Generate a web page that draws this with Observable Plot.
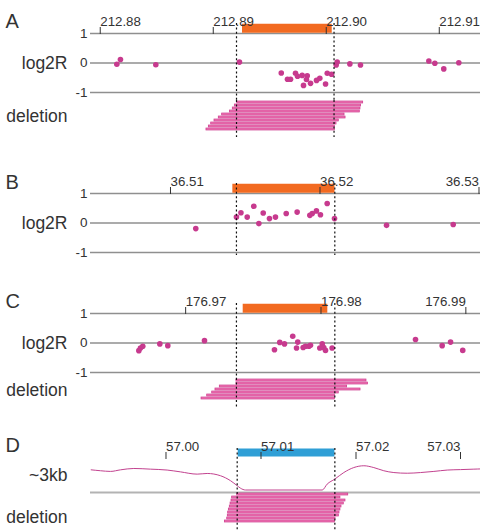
<!DOCTYPE html>
<html>
<head>
<meta charset="utf-8">
<script src="https://cdn.jsdelivr.net/npm/d3@7"></script>
<script src="https://cdn.jsdelivr.net/npm/@observablehq/plot@0.6"></script>
<style>
  body { margin: 0; background: #fff; }
  #chart { position: relative; width: 480px; height: 530px; background: #fff; }
</style>
</head>
<body>
<div id="chart"></div>
<script>
// ---- Panel A (chr position, Mb) ----
const viewA = [212.87874, 212.91325];
const ticksA = [212.88, 212.89, 212.90, 212.91];
const edgeTicksA = [];
const regionA = [212.89219, 212.90013];
const bordersA = [212.89166, 212.90029];
const dotPosA = [212.88107, 212.88139, 212.88452, 212.89192, 212.89562, 212.89617, 212.89644, 212.89688, 212.89706, 212.89747, 212.89792, 212.89759, 212.89785, 212.89821, 212.89874, 212.89903, 212.89954, 212.89969, 212.90007, 212.90048, 212.90057, 212.90169, 212.90263, 212.90868, 212.90921, 212.91, 212.91133];
const dotValA = [-0.04, 0.12, -0.06, 0.03, -0.34, -0.55, -0.55, -0.35, -0.45, -0.42, -0.43, -0.76, -0.56, -0.69, -0.59, -0.52, -0.71, -0.35, -0.38, -0.07, 0.03, -0.03, -0.07, 0.07, -0.01, -0.2, 0.01];
const delStartA = [212.89172, 212.89151, 212.89133, 212.89107, 212.89039, 212.89009, 212.88971, 212.88942, 212.88921, 212.889];
const delEndA = [212.90287, 212.90269, 212.90263, 212.90257, 212.90122, 212.90131, 212.90071, 212.90051, 212.90036, 212.90036];

// ---- Panel B ----
const viewB = [36.504348, 36.530435];
const ticksB = [36.51, 36.52];
const edgeTicksB = [36.53];
const regionB = [36.51387, 36.5207];
const bordersB = [36.51411, 36.52069];
const dotPosB = [36.51139, 36.51411, 36.51441, 36.51483, 36.51527, 36.51561, 36.5159, 36.51632, 36.51672, 36.51744, 36.51817, 36.51902, 36.51918, 36.51946, 36.51973, 36.52018, 36.52067, 36.52415, 36.52861];
const dotValB = [-0.19, 0.2, 0.35, 0.2, 0.57, -0.02, 0.34, 0.15, 0.2, 0.32, 0.37, 0.26, 0.32, 0.41, 0.28, 0.66, 0.15, -0.08, -0.05];

// ---- Panel C ----
const viewC = [176.962638, 176.991452];
const ticksC = [176.97, 176.98];
const edgeTicksC = [176.99];
const regionC = [176.97392, 176.98017];
const bordersC = [176.97342, 176.98069];
const dotPosC = [176.96621, 176.96633, 176.9665, 176.96776, 176.96835, 176.97106, 176.97623, 176.97662, 176.97697, 176.97758, 176.97795, 176.97786, 176.97835, 176.97852, 176.97877, 176.97889, 176.97958, 176.97976, 176.97987, 176.98, 176.98049, 176.98665, 176.98862, 176.98924, 176.99014];
const dotValC = [-0.26, -0.17, -0.11, -0.03, -0.09, 0.08, -0.23, 0.02, -0.03, 0.23, 0.03, -0.17, -0.15, -0.11, -0.11, -0.08, -0.17, -0.03, -0.15, -0.25, -0.17, 0.12, -0.09, 0.03, -0.25];
const delStartC = [176.97342, 176.97342, 176.97219, 176.97187, 176.97163, 176.97126, 176.97084];
const delEndC = [176.98303, 176.98315, 176.9816, 176.98259, 176.98098, 176.9807, 176.9807];

// ---- Panel D (read coverage, ~3kb bins) ----
const viewD = [56.99158, 57.03263];
const ticksD = [57.00, 57.01, 57.02];
const edgeTicksD = [57.03];
const regionD = [57.00713, 57.0173];
const bordersD = [57.00702, 57.0173];
const coveragePos = [56.99165, 56.99263, 56.99368, 56.99474, 56.99614, 56.99789, 56.99965, 57.00105, 57.00281, 57.00386, 57.00526, 57.00632, 57.00702, 57.00737, 57.00789, 57.01597, 57.01649, 57.01729, 57.01824, 57.01929, 57.02035, 57.0214, 57.02245, 57.02351, 57.02492, 57.02632, 57.02772, 57.02913, 57.03053, 57.03193, 57.03263];
const coverageVal = [1.0, 0.96, 0.93, 1.0, 1.06, 1.03, 0.99, 0.91, 0.81, 0.84, 0.74, 0.52, 0.30, 0.19, 0.11, 0.11, 0.37, 0.59, 0.88, 1.1, 1.18, 1.1, 0.96, 0.88, 0.85, 0.88, 0.93, 0.99, 1.01, 1.03, 1.04];
const delStartD = [57.00702, 57.00649, 57.00642, 57.00632, 57.00624, 57.00614, 57.00607, 57.00603, 57.00597, 57.00572];
const delEndD = [57.01871, 57.01789, 57.01842, 57.01824, 57.018, 57.01789, 57.01779, 57.01772, 57.01737, 57.0173];

// ---- styling ----
const FONT = "'Liberation Sans', Arial, Helvetica, sans-serif";
const TEXT = "#333";
const GRID = "#8f8f8f";
const ORANGE = "#f26a21";
const BLUE = "#2f9fd6";
const DOT = "#c73a8e";
const PINK = "#f07ab6";
const PINK_DARK = "#cc3a8d";
const LINE = "#c2428f";
const dash = {stroke: "#111", strokeWidth: 1.2, strokeDasharray: "2,2.4"};

const common = {
  width: 480, marginLeft: 90, marginRight: 0,
  style: {background: "none", overflow: "visible", fontFamily: FONT, color: TEXT}
};

const chart = document.getElementById("chart");
function place(svg, top) {
  svg.style.position = "absolute";
  svg.style.left = "0px";
  svg.style.top = top + "px";
  chart.append(svg);
}

const label = (s, opts) => Plot.text([s], {text: d => d, ...opts});
// position axis above the track; labels start at the tick, except those
// near the right edge, which end at it
const topAxis = (ticks, edgeTicks) => [
  Plot.axisX({
    anchor: "top", ticks, tickFormat: d => d.toFixed(2), label: null,
    tickSize: 7, tickPadding: 1, textAnchor: "start", dx: -4.5, fontSize: 13.3
  }),
  Plot.axisX({
    anchor: "top", ticks: edgeTicks, tickFormat: d => d.toFixed(2), label: null,
    tickSize: 7, tickPadding: 1, textAnchor: "end", dx: 5, fontSize: 13.3
  })
];

// log2R track with region bar and position axis
function dotTrack(p) {
  const dots = p.pos.map((x, i) => ({x, v: p.val[i]}));
  return Plot.plot({
    ...common, height: 100, marginTop: 33, marginBottom: 8,
    x: {domain: p.view, label: null},
    y: {domain: [-1, 1], label: null},
    marks: [
      Plot.ruleY([-1, 0, 1], {stroke: GRID, strokeWidth: 1.5}),
      Plot.ruleY([{a: p.region[0], b: p.region[1]}], {y: () => 1, x1: "a", x2: "b", stroke: ORANGE, strokeWidth: 9, dy: -5.3}),
      Plot.dot(dots, {x: "x", y: "v", r: 2.8, fill: DOT}),
      Plot.ruleX(p.borders, {...dash, insetTop: -10, insetBottom: p.dashBottom}),
      ...topAxis(p.ticks, p.edgeTicks),
      Plot.axisY({ticks: [-1, 0, 1], tickSize: 0, tickPadding: 3, tickFormat: d => String(d), fontSize: 13.5, label: null}),
      label(p.letter, {frameAnchor: "top-left", lineAnchor: "middle", dx: -85, dy: p.letterDy, fontSize: 20, textAnchor: "start"}),
      label("log2R", {frameAnchor: "left", dx: -23, textAnchor: "end", fontSize: 17.5})
    ]
  });
}

// stacked deletion intervals, one row each
function deletionTrack(p) {
  const rows = p.starts.map((s, i) => ({row: i, s, e: p.ends[i]}));
  return Plot.plot({
    ...common, height: p.height, marginTop: p.mt, marginBottom: p.mb,
    x: {domain: p.view, axis: null},
    y: {domain: d3.range(rows.length), axis: null, paddingInner: 0.3, paddingOuter: 0.1},
    marks: [
      Plot.barX(rows, {x1: "s", x2: "e", y: "row", fill: PINK, stroke: PINK_DARK, strokeWidth: 0.7}),
      Plot.ruleX(p.borders, {...dash, insetTop: p.dashTop, insetBottom: p.dashBottom}),
      label("deletion", {frameAnchor: "left", dx: -23, dy: p.labelDy || 0, textAnchor: "end", fontSize: 17.5})
    ]
  });
}

// Panel A
place(dotTrack({view: viewA, ticks: ticksA, edgeTicks: edgeTicksA, region: regionA, borders: bordersA, pos: dotPosA, val: dotValA, letter: "A", letterDy: -12, dashBottom: -8}), 0);
place(deletionTrack({view: viewA, starts: delStartA, ends: delEndA, borders: bordersA, height: 40, mt: 0, mb: 8, dashTop: 0, dashBottom: -5}), 100);

// Panel B
place(dotTrack({view: viewB, ticks: ticksB, edgeTicks: edgeTicksB, region: regionB, borders: bordersB, pos: dotPosB, val: dotValB, letter: "B", letterDy: -10.5, dashBottom: -3}), 160);

// Panel C
place(dotTrack({view: viewC, ticks: ticksC, edgeTicks: edgeTicksC, region: regionC, borders: bordersC, pos: dotPosC, val: dotValC, letter: "C", letterDy: -12, dashBottom: -6}), 280);
place(deletionTrack({view: viewC, starts: delStartC, ends: delEndC, borders: bordersC, height: 34, mt: 2, mb: 9, dashTop: 0, dashBottom: -7}), 376);

// Panel D: read coverage
const coverage = coveragePos.map((x, i) => ({x, c: coverageVal[i]}));
place(Plot.plot({
  ...common, height: 69, marginTop: 33, marginBottom: 2,
  x: {domain: viewD, label: null},
  y: {domain: [0, 1.5], axis: null},
  marks: [
    Plot.ruleY([0], {stroke: "#b3b3b3", strokeWidth: 2}),
    Plot.line(coverage, {x: "x", y: "c", stroke: LINE, strokeWidth: 1, curve: "monotone-x"}),
    Plot.ruleY([{a: regionD[0], b: regionD[1]}], {y: () => 1.5, x1: "a", x2: "b", stroke: BLUE, strokeWidth: 8, dy: -6}),
    Plot.ruleX(bordersD, {...dash, insetTop: -10, insetBottom: 0}),
    ...topAxis(ticksD, edgeTicksD),
    label("D", {frameAnchor: "top-left", lineAnchor: "middle", dx: -85, dy: -13, fontSize: 20, textAnchor: "start"}),
    label("~3kb", {frameAnchor: "left", dx: -23, textAnchor: "end", fontSize: 17.5})
  ]
}), 425);
place(deletionTrack({view: viewD, starts: delStartD, ends: delEndD, borders: bordersD, height: 38, mt: 1, mb: 7, dashTop: -1, dashBottom: -7, labelDy: 9}), 492);
</script>
</body>
</html>
